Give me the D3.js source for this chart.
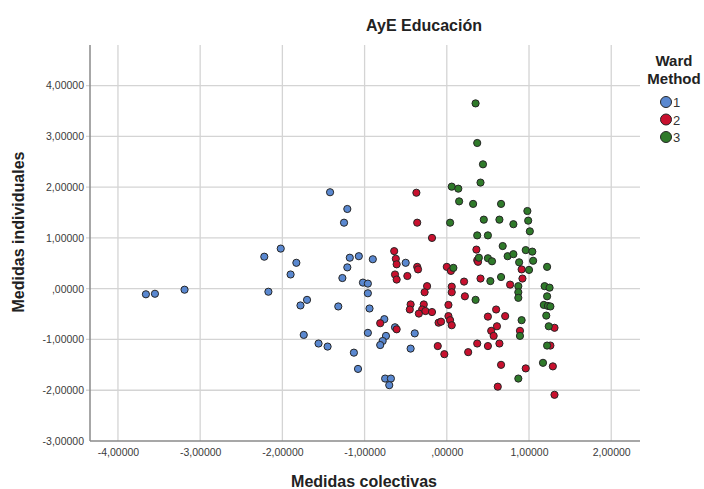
<!DOCTYPE html>
<html>
<head>
<meta charset="utf-8">
<script src="https://cdn.jsdelivr.net/npm/d3@7"></script>
<style>
  body { margin: 0; background: #fff; }
  svg { display: block; font-family: "Liberation Sans", Arial, sans-serif; }
</style>
</head>
<body>
<svg id="chart" width="704" height="489"></svg>
<script>
// cluster 1 (Ward Method), [Medidas colectivas, Medidas individuales]
const cluster1 = [
  [-3.66, -0.11], [-3.55, -0.10], [-3.19, -0.02],
  [-2.22, 0.63], [-2.02, 0.79], [-1.83, 0.51], [-1.90, 0.28], [-2.17, -0.06],
  [-1.70, -0.22], [-1.78, -0.33], [-1.74, -0.91], [-1.56, -1.08], [-1.45, -1.14],
  [-1.42, 1.90], [-1.21, 1.57], [-1.25, 1.30],
  [-1.18, 0.61], [-1.21, 0.42], [-1.27, 0.21], [-1.32, -0.35],
  [-1.07, 0.64], [-0.90, 0.58], [-1.02, 0.12], [-0.96, 0.10], [-0.96, -0.09],
  [-0.50, 0.51], [-0.94, -0.39], [-0.76, -0.60], [-0.63, -0.76], [-0.74, -0.93],
  [-0.78, -1.03], [-0.81, -1.11], [-0.96, -0.87],
  [-0.39, -0.88], [-0.44, -1.18], [-1.13, -1.26], [-1.08, -1.58],
  [-0.75, -1.77], [-0.68, -1.77], [-0.70, -1.90]
];

const cluster2 = [
  [-0.37, 1.89], [-0.36, 1.30], [-0.18, 1.00],
  [-0.64, 0.74], [-0.62, 0.59], [-0.61, 0.48], [-0.36, 0.43], [-0.35, 0.38],
  [-0.63, 0.28], [-0.61, 0.18], [-0.48, 0.25],
  [0.00, 0.43], [0.05, 0.35], [0.36, 0.77], [0.37, 0.56], [0.38, 0.53], [0.21, 0.14], [0.41, 0.20],
  [-0.24, 0.05], [-0.27, -0.07], [0.06, 0.04], [0.06, -0.07], [0.22, -0.15],
  [-0.44, -0.31], [-0.45, -0.41], [-0.28, -0.31], [-0.30, -0.41], [-0.34, -0.49],
  [-0.26, -0.44], [-0.18, -0.46],
  [0.02, -0.32], [0.02, -0.54], [0.04, -0.62], [0.06, -0.72], [-0.10, -0.67], [-0.07, -0.65],
  [-0.81, -0.68], [-0.61, -0.80],
  [-0.11, -1.13], [-0.03, -1.29], [0.26, -1.25], [0.37, -1.08], [0.50, -1.13], [0.64, -1.08],
  [0.50, -0.55], [0.60, -0.41], [0.71, -0.54], [0.54, -0.83], [0.57, -0.93], [0.61, -0.74],
  [0.77, 0.08], [0.91, 0.38], [0.92, 0.20],
  [0.66, -1.50], [0.96, -1.57], [0.62, -1.93], [0.89, -0.83],
  [1.31, -0.77], [1.26, -1.12], [1.29, -1.53], [1.31, -2.09]
];

const cluster3 = [
  [0.35, 3.65], [0.37, 2.87], [0.44, 2.45], [0.41, 2.09],
  [0.06, 2.01], [0.14, 1.97], [0.15, 1.72], [0.32, 1.67], [0.66, 1.67],
  [0.98, 1.53], [0.99, 1.34], [1.01, 1.13],
  [0.04, 1.30], [0.45, 1.36], [0.64, 1.36], [0.81, 1.27],
  [0.37, 1.05], [0.50, 1.05],
  [0.68, 0.84], [0.96, 0.76], [1.04, 0.73], [0.74, 0.64], [0.81, 0.68],
  [0.39, 0.61], [0.50, 0.60], [0.55, 0.54], [0.88, 0.52], [1.05, 0.55], [1.00, 0.37], [1.22, 0.43],
  [0.08, 0.41], [0.53, 0.15], [0.66, 0.23],
  [0.87, 0.05], [0.87, -0.07], [0.87, -0.18],
  [1.19, 0.05], [1.25, 0.02], [1.22, -0.15], [1.18, -0.32], [1.23, -0.34], [1.26, -0.35], [1.21, -0.53],
  [0.35, -0.22], [0.91, -0.62], [1.24, -0.74], [0.89, -0.93], [1.22, -1.12], [1.17, -1.46], [0.87, -1.77]
];

const clusterNames = ['1', '2', '3'];
const clusterColors = ['#5a88d0', '#c8102e', '#2f7a2a'];
const xTicks = [-4, -3, -2, -1, 0, 1, 2];
const yTicks = [-3, -2, -1, 0, 1, 2, 3, 4];

const svg = d3.select('#chart');
const plotLeft = 90, plotRight = 640, plotTop = 45, plotBottom = 441;

const x = d3.scaleLinear().domain([-4.34, 2.35]).range([plotLeft, plotRight]);
const y = d3.scaleLinear().domain([-3, 4.8]).range([plotBottom, plotTop]);

// spss style number: comma decimal, no leading zero
function fmt(v) {
  const s = d3.format('.5f')(Math.abs(v)).replace('.', ',');
  const t = s.startsWith('0,') ? s.substr(1) : s;
  return (v < 0 ? '-' : '') + t;
}

// gridlines
const grid = svg.append('g');
grid.selectAll('line.vx').data(xTicks).join('line')
  .attr('x1', (d) => x(d)).attr('x2', (d) => x(d))
  .attr('y1', plotTop).attr('y2', plotBottom)
  .attr('stroke', '#d4d4d4').attr('stroke-width', 1.3);
grid.selectAll('line.hy').data(yTicks.filter((d) => d > -3)).join('line')
  .attr('x1', plotLeft - 4).attr('x2', plotRight)
  .attr('y1', (d) => y(d)).attr('y2', (d) => y(d))
  .attr('stroke', '#d4d4d4').attr('stroke-width', 1.3);

// axes
const xAxis = svg.append('g').attr('transform', `translate(0,${plotBottom})`)
  .call(d3.axisBottom(x).tickValues(xTicks).tickFormat(fmt).tickSize(0).tickPadding(8));
const yAxis = svg.append('g').attr('transform', `translate(${plotLeft},0)`)
  .call(d3.axisLeft(y).tickValues(yTicks).tickFormat(fmt).tickSize(0).tickPadding(6));
[xAxis, yAxis].forEach((a) => {
  a.select('.domain').attr('stroke', '#8a8a8a').attr('stroke-width', 1.5);
  a.selectAll('text').attr('font-size', 10.5).attr('fill', '#3a3a3a')
    .attr('font-family', '"Liberation Sans", Arial, sans-serif');
});
xAxis.select('.domain').attr('d', `M${plotLeft},0H${plotRight}`);
yAxis.select('.domain').attr('d', `M0,${plotTop}V${plotBottom}`);

// points
const series = [cluster1, cluster2, cluster3];
series.forEach((pts, i) => {
  svg.append('g').selectAll('circle').data(pts).join('circle')
    .attr('cx', (d) => x(d[0])).attr('cy', (d) => y(d[1]))
    .attr('r', 3.6)
    .attr('fill', clusterColors[i])
    .attr('stroke', '#262626').attr('stroke-width', 1);
});

// titles
svg.append('text').attr('x', 424).attr('y', 31).attr('text-anchor', 'middle')
  .attr('font-size', 16).attr('font-weight', 'bold').attr('fill', '#222')
  .text('AyE Educación');
svg.append('text').attr('x', 364).attr('y', 487).attr('text-anchor', 'middle')
  .attr('font-size', 16).attr('font-weight', 'bold').attr('fill', '#222')
  .text('Medidas colectivas');
svg.append('text').attr('transform', 'translate(24,232) rotate(-90)').attr('text-anchor', 'middle')
  .attr('font-size', 16).attr('font-weight', 'bold').attr('fill', '#222')
  .text('Medidas individuales');

// legend
const legend = svg.append('g');
legend.append('text').attr('x', 674).attr('y', 66).attr('text-anchor', 'middle')
  .attr('font-size', 15).attr('font-weight', 'bold').attr('fill', '#222').text('Ward');
legend.append('text').attr('x', 674).attr('y', 84).attr('text-anchor', 'middle')
  .attr('font-size', 15).attr('font-weight', 'bold').attr('fill', '#222').text('Method');
const item = legend.selectAll('g.item').data(clusterNames).join('g')
  .attr('transform', (d, i) => `translate(666,${102 + i * 17.5})`);
item.append('circle').attr('r', 5.5)
  .attr('fill', (d, i) => clusterColors[i])
  .attr('stroke', '#262626').attr('stroke-width', 1);
item.append('text').attr('x', 7).attr('y', 5).attr('font-size', 13).attr('fill', '#333')
  .text((d) => d);
</script>
</body>
</html>
